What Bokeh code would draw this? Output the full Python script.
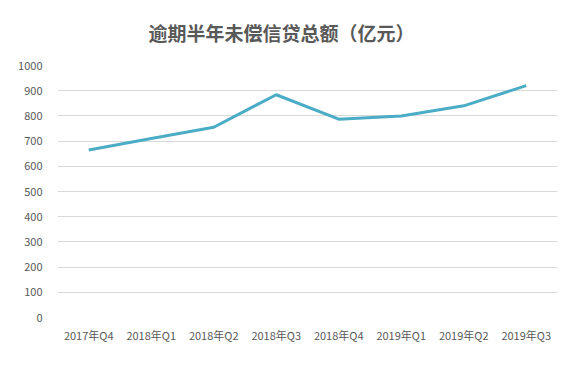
from bokeh.plotting import figure
from bokeh.models import FactorRange, Range1d, FixedTicker
from bokeh.embed import file_html
from bokeh.resources import INLINE

quarters = ["2017年Q4", "2018年Q1", "2018年Q2", "2018年Q3", "2018年Q4", "2019年Q1", "2019年Q2", "2019年Q3"]
overdue = [665, 710, 755, 884, 787, 800, 840, 920]
y_ticks = [0, 100, 200, 300, 400, 500, 600, 700, 800, 900, 1000]

FONT = "Noto Sans CJK SC"
GRAY = "#595959"

p = figure(width=571, height=361, x_range=FactorRange(*quarters), y_range=Range1d(0, 1000),
           output_backend="svg", toolbar_location=None,
           title="逾期半年未偿信贷总额（亿元）",
           min_border_left=57, min_border_right=14, min_border_top=65, min_border_bottom=44)

p.line(quarters, overdue, line_color="#4BACC6", line_width=3)

p.title.align = "left"
p.title.vertical_align = "top"
p.title.text_font = FONT
p.title.text_font_size = "19px"
p.title.text_font_style = "bold"
p.title.text_color = GRAY
p.title.offset = 91
p.title.standoff = 35

p.outline_line_color = None
p.xgrid.grid_line_color = None
p.ygrid.grid_line_color = "#D9D9D9"
p.ygrid.grid_line_width = 1

p.yaxis.ticker = FixedTicker(ticks=y_ticks)
for ax in (p.xaxis[0], p.yaxis[0]):
    ax.axis_line_color = None
    ax.major_tick_line_color = None
    ax.minor_tick_line_color = None
    ax.major_label_text_font = FONT
    ax.major_label_text_font_size = "11px"
    ax.major_label_text_color = GRAY
p.yaxis.major_label_standoff = 9
p.xaxis.major_label_standoff = 3

open("out.html", "w").write(file_html(p, INLINE))
